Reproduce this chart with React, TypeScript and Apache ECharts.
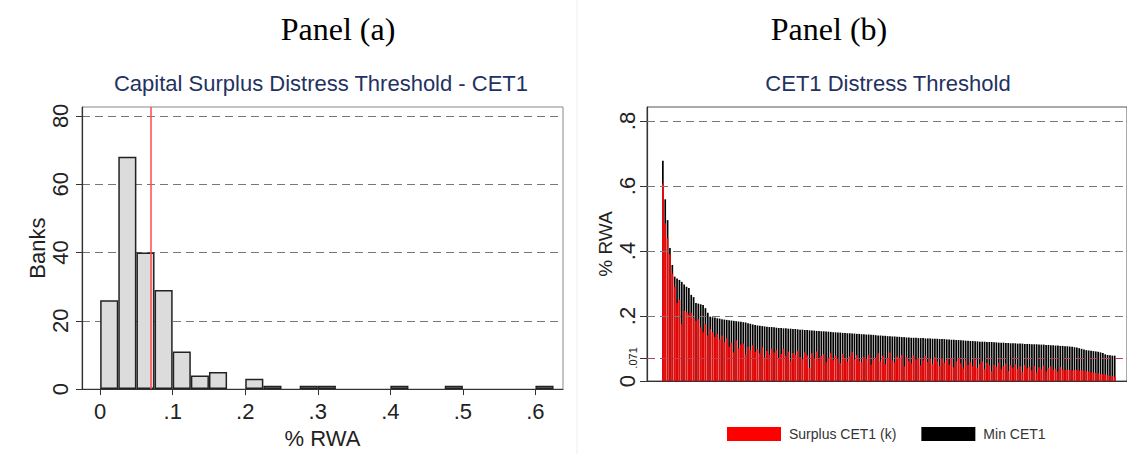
import React, { useEffect, useRef } from "react";
import * as echarts from "echarts";

// ---------- Panel (a): histogram of capital surplus ----------
const histBinStart = [0, 0.025, 0.05, 0.075, 0.1, 0.125, 0.15, 0.2, 0.225, 0.275, 0.3, 0.4, 0.475, 0.6];
const histCounts = [26, 68, 40, 29, 11, 4, 5, 3, 1, 1, 1, 1, 1, 1];
const histBinWidth = 0.025;
const thresholdA = 0.071;
const xTicksA = [0, 0.1, 0.2, 0.3, 0.4, 0.5, 0.6];
const yTicksA = [0, 20, 40, 60, 80];

// ---------- Panel (b): banks sorted by CET1 ----------
const totalCET1 = [
  0.678, 0.559, 0.495, 0.409, 0.357, 0.321, 0.315, 0.311, 0.305, 0.297,
  0.290, 0.286, 0.265, 0.258, 0.240, 0.238, 0.236, 0.234, 0.224, 0.210,
  0.198, 0.196, 0.195, 0.193, 0.192, 0.190, 0.189, 0.188, 0.187, 0.186,
  0.185, 0.184, 0.183, 0.182, 0.181, 0.180, 0.178, 0.176, 0.174, 0.172,
  0.171, 0.170, 0.169, 0.168, 0.167, 0.166, 0.166, 0.165, 0.164, 0.163,
  0.163, 0.162, 0.162, 0.161, 0.161, 0.160, 0.160, 0.159, 0.158, 0.158,
  0.157, 0.157, 0.156, 0.155, 0.155, 0.154, 0.154, 0.153, 0.153, 0.152,
  0.152, 0.151, 0.150, 0.150, 0.149, 0.149, 0.148, 0.148, 0.147, 0.147,
  0.146, 0.146, 0.145, 0.145, 0.144, 0.144, 0.143, 0.143, 0.142, 0.142,
  0.141, 0.140, 0.140, 0.139, 0.139, 0.138, 0.138, 0.137, 0.137, 0.136,
  0.136, 0.135, 0.135, 0.134, 0.134, 0.133, 0.133, 0.133, 0.132, 0.132,
  0.132, 0.131, 0.131, 0.131, 0.130, 0.130, 0.130, 0.129, 0.129, 0.129,
  0.128, 0.128, 0.127, 0.127, 0.126, 0.126, 0.125, 0.125, 0.124, 0.124,
  0.123, 0.123, 0.122, 0.122, 0.121, 0.121, 0.121, 0.120, 0.120, 0.120,
  0.119, 0.119, 0.118, 0.118, 0.118, 0.117, 0.117, 0.116, 0.116, 0.116,
  0.115, 0.115, 0.115, 0.114, 0.114, 0.114, 0.113, 0.113, 0.113, 0.112,
  0.112, 0.112, 0.111, 0.111, 0.110, 0.110, 0.109, 0.109, 0.108, 0.108,
  0.107, 0.107, 0.106, 0.105, 0.104, 0.103, 0.101, 0.099, 0.097, 0.095,
  0.094, 0.093, 0.092, 0.091, 0.090, 0.088, 0.086, 0.082, 0.080, 0.079,
  0.078, 0.078,
];
const surplusCET1 = [
  0.608, 0.485, 0.440, 0.390, 0.330, 0.290, 0.240, 0.250, 0.175, 0.215,
  0.212, 0.205, 0.210, 0.195, 0.185, 0.190, 0.165, 0.150, 0.175, 0.140,
  0.160, 0.150, 0.135, 0.145, 0.128, 0.140, 0.120, 0.132, 0.105, 0.118,
  0.088, 0.125, 0.100, 0.112, 0.115, 0.082, 0.105, 0.095, 0.110, 0.090,
  0.098, 0.085, 0.104, 0.072, 0.092, 0.080, 0.100, 0.088, 0.095, 0.070,
  0.083, 0.099, 0.078, 0.090, 0.062, 0.086, 0.080, 0.093, 0.074, 0.068,
  0.088, 0.079, 0.040, 0.085, 0.070, 0.091, 0.066, 0.077, 0.082, 0.058,
  0.072, 0.086, 0.064, 0.078, 0.069, 0.055, 0.083, 0.071, 0.060, 0.076,
  0.090, 0.067, 0.079, 0.062, 0.058, 0.074, 0.068, 0.081, 0.050, 0.065,
  0.072, 0.085, 0.060, 0.078, 0.052, 0.070, 0.088, 0.063, 0.057, 0.075,
  0.068, 0.080, 0.045, 0.073, 0.062, 0.055, 0.079, 0.066, 0.071, 0.048,
  0.064, 0.077, 0.058, 0.069, 0.053, 0.074, 0.061, 0.047, 0.070, 0.056,
  0.065, 0.050, 0.068, 0.042, 0.060, 0.071, 0.054, 0.038, 0.063, 0.049,
  0.058, 0.045, 0.066, 0.040, 0.052, 0.061, 0.036, 0.055, 0.048, 0.030,
  0.050, 0.043, 0.057, 0.035, 0.046, 0.054, 0.031, 0.049, 0.041, 0.052,
  0.037, 0.045, 0.028, 0.050, 0.039, 0.044, 0.033, 0.047, 0.026, 0.042,
  0.036, 0.048, 0.030, 0.040, 0.045, 0.034, 0.038, 0.029, 0.043, 0.035,
  0.034, 0.035, 0.034, 0.033, 0.034, 0.034, 0.032, 0.033, 0.032, 0.030,
  0.029, 0.027, 0.026, 0.025, 0.024, 0.022, 0.021, 0.020, 0.018, 0.016,
  0.015, 0.013,
];
const thresholdB = 0.071;
const yTicksB = [0, 0.071, 0.2, 0.4, 0.6, 0.8];
const gridLinesB = [0.2, 0.4, 0.6, 0.8];

const SANS = "'Liberation Sans', Arial, sans-serif";
const SERIF = "'Liberation Serif', 'Times New Roman', serif";
const TITLE_COLOR = "#1f3262";

const fmtDec = (v: number) => (v === 0 ? "0" : String(+v.toFixed(3)).replace(/^0\./, "."));

export default function App() {
  const ref = useRef<HTMLDivElement>(null);
  useEffect(() => {
    if (!ref.current) return;
    const chart = echarts.init(ref.current, null, { renderer: "svg" });
    const option: any = {
      animation: false,
      backgroundColor: "#ffffff",
      textStyle: { fontFamily: SANS },
      graphic: [
        { type: "line", shape: { x1: 577, y1: 0, x2: 577, y2: 454 }, style: { stroke: "#eeeeee", lineWidth: 1 } },
        { type: "text", x: 338, y: 29, style: { text: "Panel (a)", font: `32px ${SERIF}`, fill: "#000", align: "center", verticalAlign: "middle" } },
        { type: "text", x: 829, y: 29, style: { text: "Panel (b)", font: `32px ${SERIF}`, fill: "#000", align: "center", verticalAlign: "middle" } },
        { type: "text", x: 321, y: 83, style: { text: "Capital Surplus Distress Threshold - CET1", font: `22px ${SANS}`, fill: TITLE_COLOR, align: "center", verticalAlign: "middle" } },
        { type: "text", x: 888, y: 83, style: { text: "CET1 Distress Threshold", font: `22px ${SANS}`, fill: TITLE_COLOR, align: "center", verticalAlign: "middle" } },
      ],
      legend: {
        left: 727,
        top: 427,
        itemWidth: 54,
        itemHeight: 14,
        itemGap: 25,
        padding: 0,
        icon: "rect",
        data: [
          { name: "Surplus CET1 (k)", itemStyle: { color: "#ff0000" } },
          { name: "Min CET1", itemStyle: { color: "#000000" } },
        ],
        textStyle: { fontSize: 14, color: "#333", fontFamily: SANS, padding: [0, 0, 0, 3] },
      },
      grid: [
        { left: 82, top: 107, width: 481, height: 286, show: true, borderColor: "#888", borderWidth: 1, backgroundColor: "transparent" },
        { left: 647, top: 107, width: 480, height: 274, show: true, borderColor: "#555", borderWidth: 1, backgroundColor: "transparent" },
      ],
      xAxis: [
        {
          type: "value",
          gridIndex: 0,
          min: -0.025,
          max: 0.638,
          name: "% RWA",
          nameLocation: "middle",
          nameGap: 33,
          nameTextStyle: { fontSize: 22, color: "#222", fontFamily: SANS },
          axisLine: { show: true, onZero: false, lineStyle: { color: "#333", width: 1.2 } },
          axisTick: { show: true, customValues: xTicksA, length: 6, lineStyle: { color: "#333" } },
          axisLabel: { customValues: xTicksA, formatter: (v: number) => fmtDec(v), fontSize: 22, color: "#222", margin: 11, fontFamily: SANS },
          splitLine: { show: false },
        },
        {
          type: "value",
          gridIndex: 1,
          min: -6.7,
          max: 196.2,
          axisLine: { show: true, onZero: false, lineStyle: { color: "#333", width: 1.2 } },
          axisTick: { show: false },
          axisLabel: { show: false },
          splitLine: { show: false },
        },
      ],
      yAxis: [
        {
          type: "value",
          gridIndex: 0,
          min: 0,
          max: 82.6,
          interval: 20,
          name: "Banks",
          nameLocation: "middle",
          nameGap: 34,
          nameRotate: 90,
          nameTextStyle: { fontSize: 22, color: "#222", fontFamily: SANS },
          axisLine: { show: true, onZero: false, lineStyle: { color: "#333", width: 1.2 } },
          axisTick: { show: true, customValues: yTicksA, length: 6, lineStyle: { color: "#333" } },
          axisLabel: { customValues: yTicksA, rotate: 90, fontSize: 22, color: "#222", margin: 11, fontFamily: SANS },
          splitLine: { show: true, showMinLine: false, lineStyle: { color: "#777", type: [8, 5], width: 1.2 } },
        },
        {
          type: "value",
          gridIndex: 1,
          min: 0,
          max: 0.843,
          name: "% RWA",
          nameLocation: "middle",
          nameGap: 32,
          nameRotate: 90,
          nameTextStyle: { fontSize: 19, color: "#222", fontFamily: SANS },
          axisLine: { show: true, onZero: false, lineStyle: { color: "#333", width: 1.2 } },
          axisTick: { show: true, customValues: yTicksB, length: 7, lineStyle: { color: "#333" } },
          axisLabel: {
            customValues: yTicksB,
            rotate: 90,
            fontSize: 22,
            color: "#222",
            margin: 9,
            fontFamily: SANS,
            formatter: (v: number) => (Math.abs(v - thresholdB) < 1e-9 ? "{s|" + fmtDec(v) + "}" : fmtDec(v)),
            rich: { s: { fontSize: 11, color: "#222", fontFamily: SANS } },
          },
          splitLine: { show: false },
        },
      ],
      series: [
        {
          type: "bar",
          name: "Histogram",
          xAxisIndex: 0,
          yAxisIndex: 0,
          barWidth: 18.1,
          data: histBinStart.map((b, i) => [b + histBinWidth / 2, histCounts[i]]),
          itemStyle: { color: "#dcdcdc", borderColor: "#222", borderWidth: 1.5 },
          markLine: {
            silent: true,
            symbol: ["none", "none"],
            label: { show: false },
            lineStyle: { color: "#ff4a4a", width: 1.5, type: "solid" },
            data: [{ xAxis: thresholdA }],
          },
        },
        {
          type: "bar",
          name: "Min CET1",
          xAxisIndex: 1,
          yAxisIndex: 1,
          barWidth: 1.7,
          barGap: "-100%",
          data: totalCET1.map((v, i) => [i, v]),
          itemStyle: { color: "#000000" },
        },
        {
          type: "bar",
          name: "Surplus CET1 (k)",
          xAxisIndex: 1,
          yAxisIndex: 1,
          barWidth: 1.7,
          barGap: "-100%",
          data: surplusCET1.map((v, i) => [i, v]),
          itemStyle: { color: "#ff0000" },
          markLine: {
            silent: true,
            symbol: ["none", "none"],
            label: { show: false },
            data: [
              ...gridLinesB.map((g) => ({ yAxis: g, lineStyle: { color: "#777", type: [8, 5], width: 1.2 } })),
              { yAxis: thresholdB, lineStyle: { color: "#b8405a", type: [8, 5], width: 1 } },
            ],
          },
        },
      ],
    };
    chart.setOption(option);
    return () => chart.dispose();
  }, []);
  return <div ref={ref} style={{ position: "fixed", left: 0, top: 0, width: 1127, height: 454 }} />;
}
